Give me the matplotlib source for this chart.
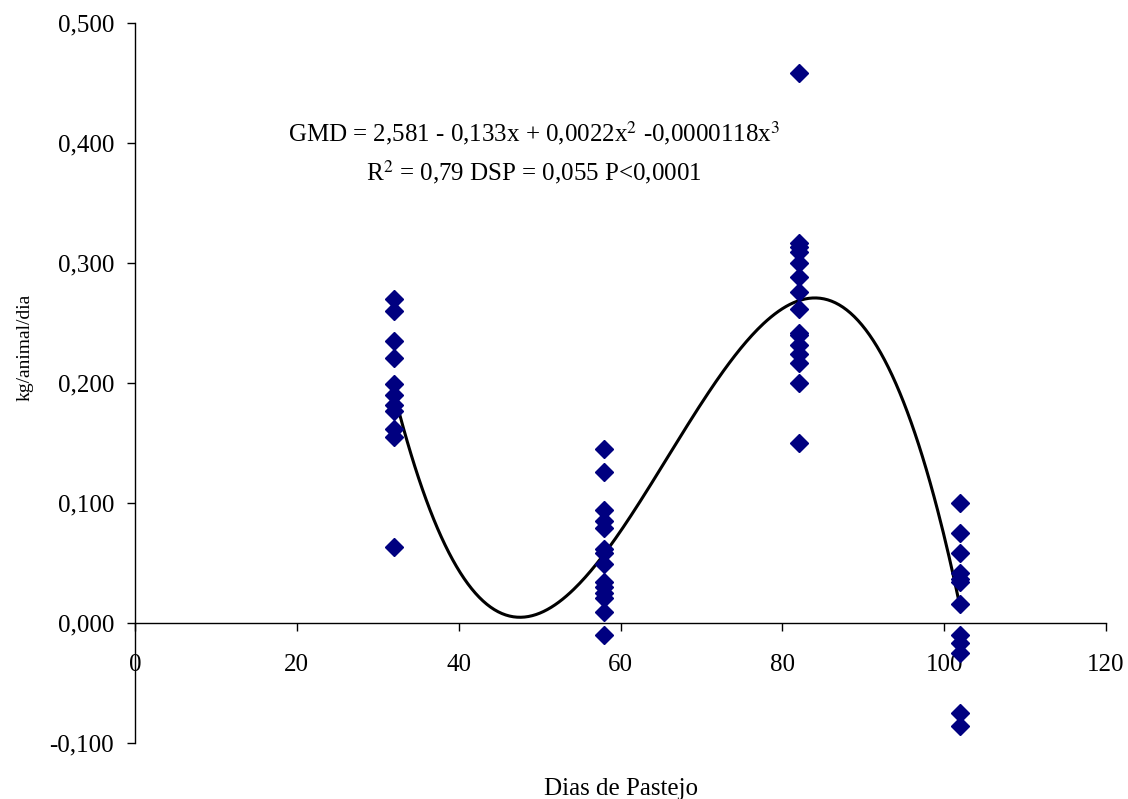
import numpy as np
import matplotlib.pyplot as plt

plt.rcParams['font.family'] = ['Liberation Serif', 'DejaVu Serif']
plt.rcParams['mathtext.fontset'] = 'stix'

# daily gain (kg/animal/dia) per grazing day
dias = [32, 58, 82, 102]
gmd_32 = [0.270, 0.260, 0.235, 0.221, 0.199, 0.190, 0.182, 0.177, 0.162, 0.155, 0.063]
gmd_58 = [0.145, 0.126, 0.094, 0.085, 0.079, 0.062, 0.058, 0.049, 0.034, 0.030,
          0.025, 0.021, 0.009, -0.010]
gmd_82 = [0.458, 0.317, 0.313, 0.309, 0.300, 0.288, 0.276, 0.262, 0.242, 0.240,
          0.232, 0.224, 0.217, 0.200, 0.150]
gmd_102 = [0.100, 0.075, 0.058, 0.042, 0.037, 0.034, 0.016, -0.010, -0.017,
           -0.025, -0.075, -0.086]

grupos = [gmd_32, gmd_58, gmd_82, gmd_102]
x = np.concatenate([[d] * len(g) for d, g in zip(dias, grupos)])
y = np.concatenate(grupos)

# cubic regression
coef = np.polyfit(x, y, 3)
xs = np.linspace(min(dias), max(dias), 300)
ys = np.polyval(coef, xs)

fig = plt.figure(figsize=(11.28, 7.99), dpi=100)
ax = fig.add_axes([0.1197, 0.0701, 0.8608, 0.9011])

ax.plot(x, y, 'D', color='#000080', markersize=9.5, linestyle='none', zorder=3)
ax.plot(xs, ys, color='black', linewidth=2.2, zorder=2)

ax.set_xlim(0, 120)
ax.set_ylim(-0.1, 0.5)
ax.set_xticks(np.arange(0, 121, 20))
ax.set_yticks(np.arange(-0.1, 0.501, 0.1))
ax.set_yticklabels(['-0,100', '0,000', '0,100', '0,200', '0,300', '0,400', '0,500'])

ax.spines['top'].set_visible(False)
ax.spines['right'].set_visible(False)
ax.spines['bottom'].set_position(('data', 0))
for s in ['left', 'bottom']:
    ax.spines[s].set_linewidth(1.0)
ax.tick_params(axis='x', direction='out', length=6, width=1, pad=16, labelsize=18)
ax.tick_params(axis='y', direction='out', length=6, width=1, pad=9, labelsize=18)

ax.set_xlabel('Dias de Pastejo', fontsize=18)
ax.xaxis.set_label_coords(0.5, -0.049)
ax.set_ylabel('kg/animal/dia', fontsize=14)
ax.yaxis.set_label_coords(-0.104, 0.55)

ax.text(49.3, 0.408, 'GMD = 2,581 - 0,133x + 0,0022x$^2$ -0,0000118x$^3$',
        ha='center', va='center', fontsize=18)
ax.text(49.3, 0.376, 'R$^2$ = 0,79 DSP = 0,055 P<0,0001',
        ha='center', va='center', fontsize=18)

fig.savefig('out.png', dpi=100)
